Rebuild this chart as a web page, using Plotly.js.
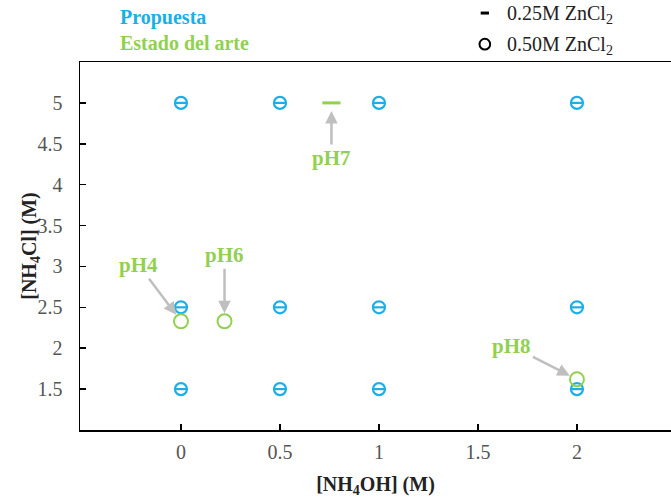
<!DOCTYPE html>
<html><head><meta charset="utf-8">
<script src="https://cdn.plot.ly/plotly-3.0.1.min.js"></script>
<style>body{margin:0;background:#fff}#c{width:671px;height:503px}</style>
</head><body><div id="c"></div>
<script>
// Propuesta (blue) points: NH4OH (x) vs NH4Cl (y)
const propX = [0, 0.5, 1, 2, 0, 0.5, 1, 2, 0, 0.5, 1, 2];
const propY = [5, 5, 5, 5, 2.5, 2.5, 2.5, 2.5, 1.5, 1.5, 1.5, 1.5];
// Estado del arte (green)
const arte025X = [0.76];
const arte025Y = [5];
const arte050X = [0, 0.22, 2];
const arte050Y = [2.33, 2.33, 1.62];
const phLabels = ['pH7', 'pH4', 'pH6', 'pH8'];
const phX = [0.76, 0, 0.22, 2];
const phY = [5, 2.33, 2.33, 1.62];
const seriesNames = ['Propuesta', 'Estado del arte'];
const concNames = ['0.25M ZnCl<sub>2</sub>', '0.50M ZnCl<sub>2</sub>'];

const BLUE = '#1AAFE8', GREEN = '#92D050', GRAY = '#BFBFBF';
const serif = '"Liberation Serif", "Times New Roman", serif';

const traces = [
  {x: propX, y: propY, type: 'scatter', mode: 'markers', showlegend: false,
   marker: {symbol: 'circle-open', size: 12, color: BLUE, line: {width: 2.2, color: BLUE}}},
  {x: propX, y: propY, type: 'scatter', mode: 'markers', showlegend: false,
   marker: {symbol: 'line-ew', size: 9, color: BLUE, line: {width: 2.2, color: BLUE}}},
  {x: arte025X, y: arte025Y, type: 'scatter', mode: 'markers', showlegend: false,
   marker: {symbol: 'line-ew', size: 13, color: GREEN, line: {width: 3, color: GREEN}}},
  {x: arte050X, y: arte050Y, type: 'scatter', mode: 'markers', showlegend: false,
   marker: {symbol: 'circle-open', size: 14, color: GREEN, line: {width: 2, color: GREEN}}}
];

// annotation offsets (pixels) for pH labels
const offs = [[0, 55], [-42, -56], [0, -66], [-65, -33]];
const ann = phLabels.map((t, i) => ({
  x: phX[i], y: phY[i], xref: 'x', yref: 'y', text: '<b>' + t + '</b>',
  showarrow: true, arrowhead: 2, arrowsize: 1, arrowwidth: 2.5, arrowcolor: GRAY,
  ax: offs[i][0], ay: offs[i][1], standoff: 8,
  font: {family: serif, size: 21, color: GREEN}
}));
ann.push({xref: 'paper', yref: 'paper', x: 0.064, y: 1.122, xanchor: 'left', yanchor: 'middle', showarrow: false,
  text: '<b>' + seriesNames[0] + '</b>', font: {family: serif, size: 20, color: BLUE}});
ann.push({xref: 'paper', yref: 'paper', x: 0.064, y: 1.052, xanchor: 'left', yanchor: 'middle', showarrow: false,
  text: '<b>' + seriesNames[1] + '</b>', font: {family: serif, size: 20, color: GREEN}});
ann.push({xref: 'paper', yref: 'paper', x: 0.719, y: 1.130, xanchor: 'left', yanchor: 'middle', showarrow: false,
  text: concNames[0], font: {family: serif, size: 20, color: '#222'}});
ann.push({xref: 'paper', yref: 'paper', x: 0.719, y: 1.046, xanchor: 'left', yanchor: 'middle', showarrow: false,
  text: concNames[1], font: {family: serif, size: 20, color: '#222'}});
// y-axis title placed as rotated annotation (overlaps tick label column like the reference)
ann.push({xref: 'paper', yref: 'paper', x: -0.085, y: 0.5, xanchor: 'center', yanchor: 'middle', showarrow: false,
  textangle: -90, text: '<b>[NH<sub>4</sub>Cl] (M)</b>', font: {family: serif, size: 20, color: '#222'}});

const shapes = [
  {type: 'line', xref: 'paper', yref: 'paper', x0: 0.678, x1: 0.692, y0: 1.133, y1: 1.133,
   line: {color: '#000', width: 3}},
  {type: 'circle', xref: 'paper', yref: 'paper', x0: 0.676, x1: 0.694, y0: 1.034, y1: 1.063,
   line: {color: '#000', width: 2}}
];

const layout = {
  width: 671, height: 503,
  margin: {l: 80, r: 0, t: 62, b: 73},
  paper_bgcolor: '#fff', plot_bgcolor: '#fff',
  showlegend: false,
  xaxis: {range: [-0.51, 2.475], tickvals: [0, 0.5, 1, 1.5, 2], ticktext: ['0', '0.5', '1', '1.5', '2'],
    showgrid: false, zeroline: false, showline: true, linecolor: '#000', linewidth: 1.5, mirror: true,
    ticks: 'inside', ticklen: 6, tickcolor: '#000', tickwidth: 1.5, ticklabelstandoff: 3,
    tickfont: {family: serif, size: 20, color: '#555'},
    title: {text: '<b>[NH<sub>4</sub>OH] (M)</b>', font: {family: serif, size: 20, color: '#222'}, standoff: 15}},
  yaxis: {range: [1, 5.5], tickvals: [1.5, 2, 2.5, 3, 3.5, 4, 4.5, 5], ticktext: ['1.5', '2', '2.5', '3', '3.5', '4', '4.5', '5'],
    showgrid: false, zeroline: false, showline: true, linecolor: '#000', linewidth: 1.5, mirror: true,
    ticks: 'inside', ticklen: 6, tickcolor: '#000', tickwidth: 1.5, ticklabelstandoff: 12,
    tickfont: {family: serif, size: 20, color: '#555'}},
  annotations: ann,
  shapes: shapes
};
Plotly.newPlot('c', traces, layout, {displayModeBar: false, staticPlot: true});
</script></body></html>
